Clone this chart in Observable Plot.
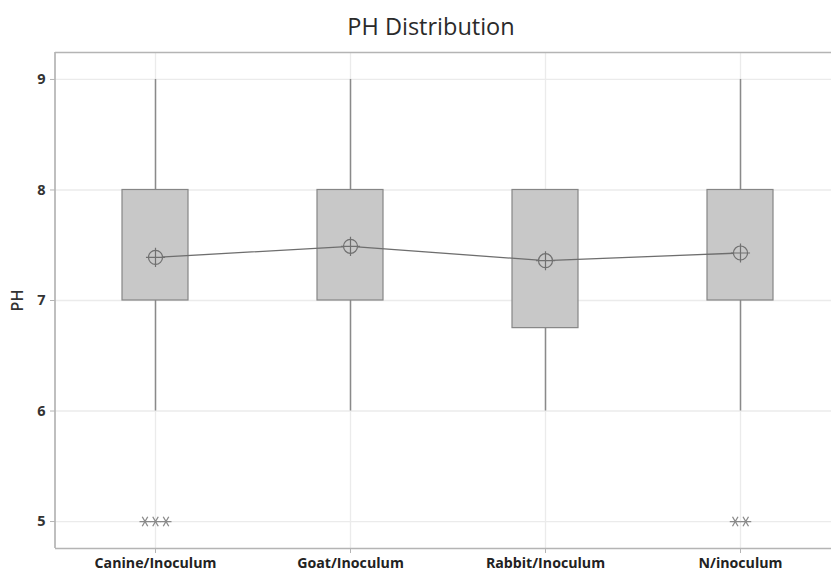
<!DOCTYPE html>
<html>
<head>
<meta charset="utf-8">
<script src="https://cdn.jsdelivr.net/npm/d3@7"></script>
<script src="https://cdn.jsdelivr.net/npm/@observablehq/plot@0.6"></script>
<style>
  html, body { margin: 0; padding: 0; background: #fff; overflow: hidden; font-family: "Open Sans", "Noto Sans", sans-serif; }
  #title { width: 831px; height: 40px; box-sizing: border-box; padding-left: 31px; text-align: center; font-size: 23.5px; color: #2a2a2a; line-height: 40px; padding-top: 6px; overflow: visible; white-space: nowrap; }
  #chart svg { display: block; }
</style>
</head>
<body>
<div id="title">PH Distribution</div>
<div id="chart"></div>
<script>
const categories = ["Canine/Inoculum", "Goat/Inoculum", "Rabbit/Inoculum", "N/inoculum"];
const whiskerLow = [6, 6, 6, 6];
const q1 = [7, 7, 6.75, 7];
const q3 = [8, 8, 8, 8];
const whiskerHigh = [9, 9, 8, 9];
const means = [7.39, 7.49, 7.36, 7.43];
const outlierCategory = ["Canine/Inoculum", "Canine/Inoculum", "Canine/Inoculum", "N/inoculum", "N/inoculum"];
const outlierValues = [5, 5, 5, 5, 5];
const yTicks = [5, 6, 7, 8, 9];

const rows = categories.map((c, i) => ({
  cat: c, lo: whiskerLow[i], q1: q1[i], q3: q3[i], hi: whiskerHigh[i], mean: means[i]
}));

const W = 831, H = 534, mT = 12, mB = 26, mL = 55, mR = 0;
const yDomain = [4.756, 9.244];
const gridColor = "#ebebeb";
const frameColor = "#b4b4b4";

// left frame edge drawn from the y scale's extent
function leftEdge(index, scales) {
  const y = scales.y;
  const line = document.createElementNS("http://www.w3.org/2000/svg", "line");
  line.setAttribute("x1", mL); line.setAttribute("x2", mL);
  line.setAttribute("y1", y(yDomain[1])); line.setAttribute("y2", y(yDomain[0]));
  line.setAttribute("stroke", frameColor);
  line.setAttribute("stroke-width", 1.7);
  return line;
}

// outliers: duplicates placed side by side within each category
const outlierMarks = [];
categories.forEach(c => {
  const pts = outlierCategory.map((oc, i) => ({cat: oc, v: outlierValues[i]})).filter(d => d.cat === c);
  pts.forEach((p, j) => {
    outlierMarks.push(Plot.dot([p], {
      x: "cat", y: "v", symbol: "asterisk", rotate: 90, r: 5.2,
      stroke: "#8a8a8a", strokeWidth: 1.3, dx: (j - (pts.length - 1) / 2) * 10.5
    }));
  });
});

const chart = Plot.plot({
  width: W,
  height: H,
  marginTop: mT,
  marginBottom: mB,
  marginLeft: mL,
  marginRight: mR,
  style: { fontFamily: "'Open Sans', 'Noto Sans', sans-serif", background: "#fff", overflow: "visible" },
  x: { type: "band", domain: categories, range: [120, 774], paddingInner: 0.663, paddingOuter: 0 },
  y: { domain: yDomain },
  marks: [
    Plot.gridY(yTicks, { stroke: gridColor, strokeOpacity: 1, strokeWidth: 1.3 }),
    Plot.gridX(categories, { stroke: gridColor, strokeOpacity: 1, strokeWidth: 1.3 }),
    Plot.ruleY([yDomain[1]], { stroke: frameColor, strokeWidth: 1.7 }),
    Plot.ruleY([yDomain[0]], { stroke: frameColor, strokeWidth: 1.7 }),
    leftEdge,
    Plot.axisY({
      ticks: yTicks, tickSize: 5, tickPadding: 5, tickFormat: d => d,
      stroke: frameColor, fontSize: 14.5, fontWeight: "bold", color: "#333",
      label: null
    }),
    Plot.axisY({
      ticks: [], tickSize: 0, fontSize: 16, fontWeight: 600, color: "#333",
      label: "PH", labelAnchor: "center", labelOffset: 44, labelArrow: false
    }),
    Plot.axisX({
      tickSize: 5, tickPadding: 4, fontSize: 14.2, fontWeight: "bold", color: "#222",
      stroke: frameColor, label: null
    }),
    Plot.ruleX(rows, { x: "cat", y1: "lo", y2: "q1", stroke: "#8a8a8a", strokeWidth: 1.5 }),
    Plot.ruleX(rows, { x: "cat", y1: "q3", y2: "hi", stroke: "#8a8a8a", strokeWidth: 1.5 }),
    Plot.barY(rows, { x: "cat", y1: "q1", y2: "q3", fill: "#c8c8c8", stroke: "#868686", strokeWidth: 1.2 }),
    Plot.line(rows, { x: "cat", y: "mean", stroke: "#6e6e6e", strokeWidth: 1.3 }),
    Plot.dot(rows, { x: "cat", y: "mean", symbol: "circle", r: 7, stroke: "#707070", strokeWidth: 1.2, fill: "#c8c8c8" }),
    Plot.dot(rows, { x: "cat", y: "mean", symbol: "plus", r: 6.2, stroke: "#707070", strokeWidth: 1.2 }),
    ...outlierMarks
  ]
});
document.getElementById("chart").appendChild(chart);
</script>
</body>
</html>
